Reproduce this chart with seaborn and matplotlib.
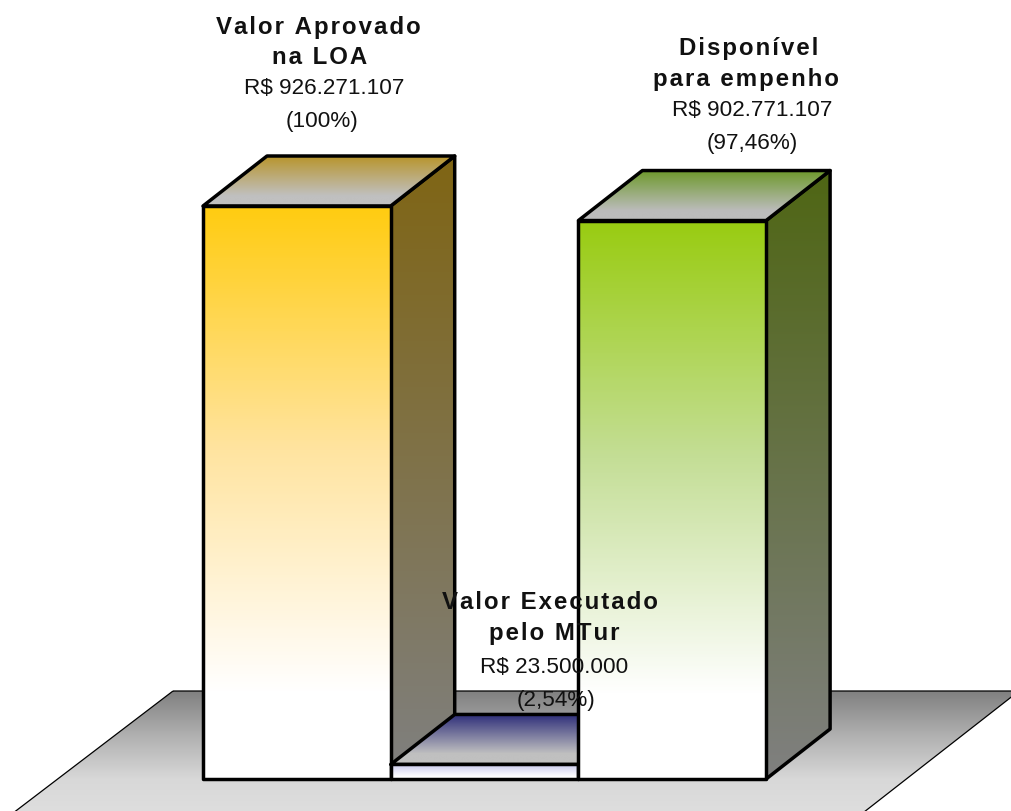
import numpy as np
import pandas as pd
import seaborn as sns
import matplotlib.pyplot as plt
from matplotlib.colors import LinearSegmentedColormap
from matplotlib.patches import Polygon

categorias = ["Valor Aprovado na LOA", "Valor Executado pelo MTur", "Disponível para empenho"]
valores = [926271107, 23500000, 902771107]
titulos = [["Valor Aprovado", "na LOA"], ["Valor Executado", "pelo MTur"], ["Disponível", "para empenho"]]
montantes = ["R$ 926.271.107", "R$ 23.500.000", "R$ 902.771.107"]
percentuais = ["(100%)", "(2,54%)", "(97,46%)"]

# gradient stops, top to bottom
frente = [["#ffcc11", "#ffe4a0", "#ffffff"], ["#c8c8ec", "#e4e4f6", "#ffffff"], ["#99cc11", "#c4de96", "#ffffff"]]
lado = [["#7f6514", "#808080"], ["#808080", "#808080"], ["#4f6614", "#808080"]]
topo = [["#b8952c", "#c0c0c0"], ["#2a2a78", "#c0c0c0"], ["#6f9a2e", "#bcbcbc"]]
piso = ["#808080", "#b0b0b0", "#d8d8d8", "#e0e0e0"]

# layout in pixels
W, H = 1011, 812
BAR_LEFT, BAR_PX, BASE_Y, MAX_PX = 203, 187.7, 780, 573
DEPTH_X, DEPTH_Y = 64, 50
# offsets of each text line from the top centre of its bar (dx, dy)
offsets = [
    [(22, 179), (23, 149), (27, 118), (25, 85)],
    [(65, 163), (70, 132), (70, 98), (71, 65)],
    [(76, 173), (74, 142), (80, 111), (80, 78)],
]

plt.rcParams['font.family'] = ['Liberation Sans', 'DejaVu Sans']

unit_y = valores[0] / MAX_PX
unit_x = 1 / BAR_PX


def px_x(x):
    return -0.5 + (x - BAR_LEFT) * unit_x


def px_y(y):
    return (BASE_Y - y) * unit_y


def face(ax, verts, colors, z, lw=2.5, stop=1.0):
    # polygon filled with a vertical gradient, the last colour reached at "stop"
    verts = np.array(verts)
    cmap = LinearSegmentedColormap.from_list("g", colors)
    grad = np.clip(np.linspace(0, 1, 256) / stop, 0, 1).reshape(-1, 1)
    extent = (verts[:, 0].min(), verts[:, 0].max(), verts[:, 1].min(), verts[:, 1].max())
    im = ax.imshow(grad, cmap=cmap, extent=extent, origin='upper', aspect='auto', zorder=z)
    patch = Polygon(verts, closed=True, facecolor='none', edgecolor='black',
                    linewidth=lw, joinstyle='round', zorder=z + 0.5)
    ax.add_patch(patch)
    im.set_clip_path(patch)


df = pd.DataFrame({"categoria": categorias, "valor": valores})

fig = plt.figure(figsize=(W / 100, H / 100), dpi=100)
ax = fig.add_axes([0, 0, 1, 1])
sns.barplot(data=df, x="categoria", y="valor", hue="categoria", palette=[c[0] for c in frente],
            width=1, saturation=1, legend=False, ax=ax)
bars = list(ax.patches)

# floor
face(ax, [(px_x(173), px_y(692)), (px_x(1019), px_y(692)), (px_x(850), px_y(824)), (px_x(0), px_y(824))],
     piso, 1, lw=0.9)

dx = DEPTH_X * unit_x
dy = DEPTH_Y * unit_y
for i, bar in enumerate(bars):
    x0, x1, h = bar.get_x(), bar.get_x() + bar.get_width(), bar.get_height()
    z = 10 * (i + 1)
    face(ax, [(x1, 0), (x1 + dx, dy), (x1 + dx, h + dy), (x1, h)], lado[i], z)
    face(ax, [(x0, h), (x1, h), (x1 + dx, h + dy), (x0 + dx, h + dy)], topo[i], z + 1, stop=0.8)
    face(ax, [(x0, 0), (x1, 0), (x1, h), (x0, h)], frente[i], z + 2, stop=0.85)
    bar.set_visible(False)

    linhas = titulos[i] + [montantes[i], percentuais[i]]
    for j, linha in enumerate(linhas):
        bold = j < 2
        texto = "\u200a".join(linha) if bold else linha
        ax.annotate(texto, xy=(i, h), xytext=offsets[i][j], textcoords='offset pixels',
                    ha='center', va='center', fontsize=17.3 if bold else 16.2, color='#111111',
                    fontweight='bold' if bold else 'normal', zorder=100)

ax.set_xlim(px_x(0), px_x(W))
ax.set_ylim(px_y(H), px_y(0))
ax.axis('off')

fig.savefig("out.png", dpi=100)
